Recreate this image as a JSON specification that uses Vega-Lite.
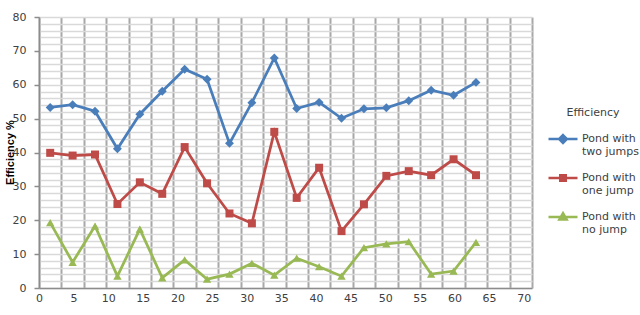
{
  "$schema": "https://vega.github.io/schema/vega-lite/v6.json",
  "width": 493,
  "height": 271,
  "autosize": {"type": "none"},
  "padding": {"left": 39, "top": 17, "right": 108, "bottom": 27},
  "background": "white",
  "config": {
    "view": {"stroke": null},
    "font": "DejaVu Sans",
    "axis": {"labelFont": "DejaVu Sans", "labelFontSize": 11, "labelColor": "#404040"}
  },
  "data": {
    "values": [
      {"x": 1.618, "series": "Pond with two jumps", "efficiency": 53.3},
      {"x": 4.855, "series": "Pond with two jumps", "efficiency": 54.1},
      {"x": 8.091, "series": "Pond with two jumps", "efficiency": 52.2},
      {"x": 11.327, "series": "Pond with two jumps", "efficiency": 41.1},
      {"x": 14.564, "series": "Pond with two jumps", "efficiency": 51.3},
      {"x": 17.8, "series": "Pond with two jumps", "efficiency": 58.1},
      {"x": 21.036, "series": "Pond with two jumps", "efficiency": 64.6},
      {"x": 24.273, "series": "Pond with two jumps", "efficiency": 61.6},
      {"x": 27.509, "series": "Pond with two jumps", "efficiency": 42.7},
      {"x": 30.745, "series": "Pond with two jumps", "efficiency": 54.7},
      {"x": 33.982, "series": "Pond with two jumps", "efficiency": 67.9},
      {"x": 37.218, "series": "Pond with two jumps", "efficiency": 53.0},
      {"x": 40.455, "series": "Pond with two jumps", "efficiency": 54.8},
      {"x": 43.691, "series": "Pond with two jumps", "efficiency": 50.1},
      {"x": 46.927, "series": "Pond with two jumps", "efficiency": 52.9},
      {"x": 50.164, "series": "Pond with two jumps", "efficiency": 53.2},
      {"x": 53.4, "series": "Pond with two jumps", "efficiency": 55.3},
      {"x": 56.636, "series": "Pond with two jumps", "efficiency": 58.4},
      {"x": 59.873, "series": "Pond with two jumps", "efficiency": 56.9},
      {"x": 63.109, "series": "Pond with two jumps", "efficiency": 60.7},
      {"x": 1.618, "series": "Pond with one jump", "efficiency": 39.9},
      {"x": 4.855, "series": "Pond with one jump", "efficiency": 39.1},
      {"x": 8.091, "series": "Pond with one jump", "efficiency": 39.4},
      {"x": 11.327, "series": "Pond with one jump", "efficiency": 24.8},
      {"x": 14.564, "series": "Pond with one jump", "efficiency": 31.2},
      {"x": 17.8, "series": "Pond with one jump", "efficiency": 27.8},
      {"x": 21.036, "series": "Pond with one jump", "efficiency": 41.6},
      {"x": 24.273, "series": "Pond with one jump", "efficiency": 30.9},
      {"x": 27.509, "series": "Pond with one jump", "efficiency": 22.0},
      {"x": 30.745, "series": "Pond with one jump", "efficiency": 19.1},
      {"x": 33.982, "series": "Pond with one jump", "efficiency": 46.1},
      {"x": 37.218, "series": "Pond with one jump", "efficiency": 26.6},
      {"x": 40.455, "series": "Pond with one jump", "efficiency": 35.5},
      {"x": 43.691, "series": "Pond with one jump", "efficiency": 16.8},
      {"x": 46.927, "series": "Pond with one jump", "efficiency": 24.7},
      {"x": 50.164, "series": "Pond with one jump", "efficiency": 33.1},
      {"x": 53.4, "series": "Pond with one jump", "efficiency": 34.5},
      {"x": 56.636, "series": "Pond with one jump", "efficiency": 33.3},
      {"x": 59.873, "series": "Pond with one jump", "efficiency": 38.0},
      {"x": 63.109, "series": "Pond with one jump", "efficiency": 33.3},
      {"x": 1.618, "series": "Pond with no jump", "efficiency": 19.3},
      {"x": 4.855, "series": "Pond with no jump", "efficiency": 7.6},
      {"x": 8.091, "series": "Pond with no jump", "efficiency": 18.3},
      {"x": 11.327, "series": "Pond with no jump", "efficiency": 3.5},
      {"x": 14.564, "series": "Pond with no jump", "efficiency": 17.4},
      {"x": 17.8, "series": "Pond with no jump", "efficiency": 3.0},
      {"x": 21.036, "series": "Pond with no jump", "efficiency": 8.3},
      {"x": 24.273, "series": "Pond with no jump", "efficiency": 2.6},
      {"x": 27.509, "series": "Pond with no jump", "efficiency": 4.1},
      {"x": 30.745, "series": "Pond with no jump", "efficiency": 7.3},
      {"x": 33.982, "series": "Pond with no jump", "efficiency": 3.8},
      {"x": 37.218, "series": "Pond with no jump", "efficiency": 8.8},
      {"x": 40.455, "series": "Pond with no jump", "efficiency": 6.3},
      {"x": 43.691, "series": "Pond with no jump", "efficiency": 3.5},
      {"x": 46.927, "series": "Pond with no jump", "efficiency": 11.9},
      {"x": 50.164, "series": "Pond with no jump", "efficiency": 13.0},
      {"x": 53.4, "series": "Pond with no jump", "efficiency": 13.7},
      {"x": 56.636, "series": "Pond with no jump", "efficiency": 4.1},
      {"x": 59.873, "series": "Pond with no jump", "efficiency": 5.0},
      {"x": 63.109, "series": "Pond with no jump", "efficiency": 13.5}
    ]
  },
  "layer": [
    {
      "transform": [{"filter": "datum.series === 'Pond with no jump'"}],
      "mark": {"type": "line", "color": "#98B954", "strokeWidth": 2.75,
        "point": {"shape": "triangle-up", "filled": true, "size": 70, "color": "#98B954", "opacity": 1}},
      "encoding": {
        "x": {"field": "x", "type": "quantitative", "scale": {"domain": [0, 71.2], "nice": false, "zero": false},
          "axis": {"orient": "top", "values": [0, 3.236, 6.473, 9.709, 12.945, 16.182, 19.418, 22.655, 25.891, 29.127, 32.364, 35.6, 38.836, 42.073, 45.309, 48.545, 51.782, 55.018, 58.255, 61.491, 64.727, 67.964, 71.2],
            "grid": true, "gridColor": "#a8a8a8", "gridWidth": 2, "labels": false, "ticks": false, "domain": false, "title": null}},
        "y": {"field": "efficiency", "type": "quantitative", "scale": {"domain": [0, 80], "nice": false},
          "axis": {"orient": "right", "values": [0, 2, 4, 6, 8, 10, 12, 14, 16, 18, 20, 22, 24, 26, 28, 30, 32, 34, 36, 38, 40, 42, 44, 46, 48, 50, 52, 54, 56, 58, 60, 62, 64, 66, 68, 70, 72, 74, 76, 78, 80],
            "grid": true, "gridColor": "#d9d9d9", "gridWidth": 1.5, "labels": false, "ticks": false, "domain": false, "title": null}}
      }
    },
    {
      "transform": [{"filter": "datum.series === 'Pond with one jump'"}],
      "mark": {"type": "line", "color": "#BE4B48", "strokeWidth": 2.75,
        "point": {"shape": "square", "filled": true, "size": 64, "color": "#BE4B48", "opacity": 1}},
      "encoding": {
        "x": {"field": "x", "type": "quantitative", "scale": {"domain": [0, 71.2], "nice": false, "zero": false},
          "axis": {"values": [0, 5, 10, 15, 20, 25, 30, 35, 40, 45, 50, 55, 60, 65, 70], "grid": false, "ticks": false,
            "domainColor": "#8c8c8c", "domainWidth": 1.5, "labelPadding": 4, "labelFlush": false, "title": null}},
        "y": {"field": "efficiency", "type": "quantitative", "scale": {"domain": [0, 80], "nice": false},
          "axis": {"values": [0, 10, 20, 30, 40, 50, 60, 70, 80], "grid": false, "tickSize": 5, "tickColor": "#8c8c8c", "tickWidth": 1.5,
            "domainColor": "#8c8c8c", "domainWidth": 1.5, "labelPadding": 8,
            "title": "Efficiency %", "titleFont": "Liberation Sans", "titleFontWeight": "bold", "titleFontSize": 11, "titleColor": "#000000",
            "titleAngle": 270, "titleBaseline": "middle", "titleX": -29, "titleY": 135}}
      }
    },
    {
      "transform": [{"filter": "datum.series === 'Pond with two jumps'"}],
      "mark": {"type": "line", "color": "#4A7EBB", "strokeWidth": 2.75,
        "point": {"shape": "diamond", "filled": true, "size": 80, "color": "#4A7EBB", "opacity": 1}},
      "encoding": {
        "x": {"field": "x", "type": "quantitative", "scale": {"domain": [0, 71.2], "nice": false, "zero": false}, "axis": null},
        "y": {"field": "efficiency", "type": "quantitative", "scale": {"domain": [0, 80], "nice": false}, "axis": null}
      }
    },
    {
      "transform": [{"filter": "false"}],
      "mark": {"type": "point", "filled": true, "opacity": 1, "strokeWidth": 2.5},
      "encoding": {
        "x": {"field": "x", "type": "quantitative", "scale": {"domain": [0, 71.2], "nice": false, "zero": false}, "axis": null},
        "y": {"field": "efficiency", "type": "quantitative", "scale": {"domain": [0, 80], "nice": false}, "axis": null},
        "color": {"field": "series", "type": "nominal",
          "scale": {"domain": ["Pond with two jumps", "Pond with one jump", "Pond with no jump"], "range": ["#4A7EBB", "#BE4B48", "#98B954"]},
          "legend": {"title": "Efficiency", "orient": "none", "legendX": 508, "legendY": 90, "padding": 0,
            "titleFont": "DejaVu Sans", "titleFontSize": 11, "titleFontWeight": "normal", "titleColor": "#404040", "titleAnchor": "middle", "titlePadding": 5,
            "labelFont": "DejaVu Sans", "labelFontSize": 11, "labelColor": "#404040", "labelOffset": 3, "labelBaseline": "middle",
            "labelExpr": "[substring(datum.label, 0, 9), substring(datum.label, 10)]",
            "symbolSize": 841, "symbolStrokeWidth": 2.5, "rowPadding": 5,
            "encode": {
              "labels": {"update": {"lineHeight": {"value": 15}, "dy": {"value": 7.5}}},
              "title": {"update": {"dx": {"value": 6}}}
            }}},
        "stroke": {"field": "series", "type": "nominal",
          "scale": {"domain": ["Pond with two jumps", "Pond with one jump", "Pond with no jump"], "range": ["#4A7EBB", "#BE4B48", "#98B954"]},
          "legend": {"title": "Efficiency", "orient": "none", "legendX": 508, "legendY": 90, "padding": 0,
            "titleFont": "DejaVu Sans", "titleFontSize": 11, "titleFontWeight": "normal", "titleColor": "#404040", "titleAnchor": "middle", "titlePadding": 5,
            "labelFont": "DejaVu Sans", "labelFontSize": 11, "labelColor": "#404040", "labelOffset": 3, "labelBaseline": "middle",
            "labelExpr": "[substring(datum.label, 0, 9), substring(datum.label, 10)]",
            "symbolSize": 841, "symbolStrokeWidth": 2.5, "rowPadding": 5,
            "encode": {
              "labels": {"update": {"lineHeight": {"value": 15}, "dy": {"value": 7.5}}},
              "title": {"update": {"dx": {"value": 6}}}
            }}},
        "shape": {"field": "series", "type": "nominal",
          "scale": {"domain": ["Pond with two jumps", "Pond with one jump", "Pond with no jump"],
            "range": ["M-1,0H1M0,-0.27L0.27,0L0,0.27L-0.27,0Z", "M-1,0H1M-0.19,-0.19H0.19V0.19H-0.19Z", "M-1,0H1M0,-0.26L0.25,0.17H-0.25Z"]},
          "legend": {"title": "Efficiency", "orient": "none", "legendX": 508, "legendY": 90, "padding": 0,
            "titleFont": "DejaVu Sans", "titleFontSize": 11, "titleFontWeight": "normal", "titleColor": "#404040", "titleAnchor": "middle", "titlePadding": 5,
            "labelFont": "DejaVu Sans", "labelFontSize": 11, "labelColor": "#404040", "labelOffset": 3, "labelBaseline": "middle",
            "labelExpr": "[substring(datum.label, 0, 9), substring(datum.label, 10)]",
            "symbolSize": 841, "symbolStrokeWidth": 2.5, "rowPadding": 5,
            "encode": {
              "labels": {"update": {"lineHeight": {"value": 15}, "dy": {"value": 7.5}}},
              "title": {"update": {"dx": {"value": 6}}}
            }}}
      }
    }
  ],
  "resolve": {"axis": {"x": "independent", "y": "independent"}}
}
